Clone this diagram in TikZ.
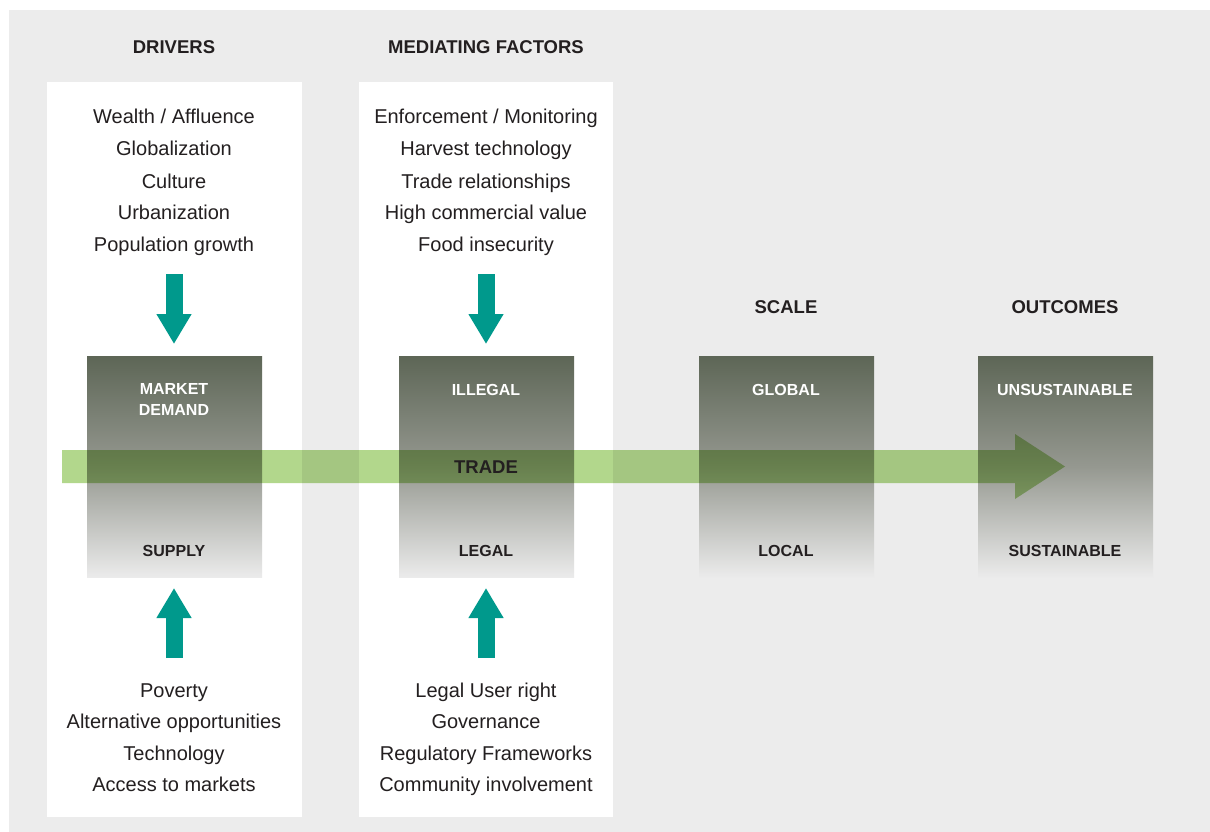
\documentclass[tikz,border=0pt]{standalone}
\usepackage{fontspec}
\setmainfont{Liberation Sans}
\usetikzlibrary{arrows.meta,calc}
\definecolor{bgc}{HTML}{ECECEC}
\definecolor{ink}{HTML}{231F20}
\definecolor{teal}{HTML}{00998C}
\definecolor{trade}{HTML}{B2D78C}
\definecolor{gtop}{HTML}{5D6656}
\definecolor{gmid}{HTML}{959890}
\definecolor{gbot}{HTML}{EBEBEB}
\tikzset{
  head/.style={font=\bfseries\fontsize{18.5}{20}\selectfont, text=ink, anchor=base},
  item/.style={font=\fontsize{20}{22}\selectfont, text=ink, anchor=base},
  gbox/.style={minimum width=175pt, minimum height=221pt, inner sep=0pt,
    top color=gtop, bottom color=gbot, middle color=gmid, draw=none},
  toplab/.style={font=\bfseries\fontsize{16}{21}\selectfont, text=white, align=center, anchor=base},
  botlab/.style={font=\bfseries\fontsize{16}{18}\selectfont, text=ink, anchor=base},
  blockarrow/.style={draw=teal, line width=17pt, -{Triangle[width=33pt,length=30pt]}},
}
\begin{document}
\begin{tikzpicture}[x=1pt,y=-1pt]
\useasboundingbox (0,0) rectangle (1210,832);
\fill[white] (0,0) rectangle (1210,832);
\fill[bgc] (9,10) rectangle (1210,832);
\fill[white] (47,82) rectangle (302,817);
\fill[white] (359,82) rectangle (613,817);

\node[head] (hdrv) at (174,53.5) {DRIVERS};
\node[head] (hmed) at (486,53.5) {MEDIATING FACTORS};
\node[head] (hscl) at (786,313.5) {SCALE};
\node[head] (hout) at (1065,313.5) {OUTCOMES};

% boxes
\node[gbox] (b1) at (174.5,466.5) {};
\node[gbox] (b2) at (486.5,466.5) {};
\node[gbox] (b3) at (786.5,466.5) {};
\node[gbox] (b4) at (1065.5,466.5) {};

% driver items
\node[item] (d1) at (174,124) {Wealth / Affluence};
\node[item] (d2) at (174,156) {Globalization};
\node[item] (d3) at (174,188) {Culture};
\node[item] (d4) at (174,219) {Urbanization};
\node[item] (d5) at (174,251) {Population growth};
\node[item] (s1) at (174,697) {Poverty};
\node[item] (s2) at (174,728) {Alternative opportunities};
\node[item] (s3) at (174,760) {Technology};
\node[item] (s4) at (174,791) {Access to markets};

% mediating items
\node[item] (m1) at (486,124) {Enforcement / Monitoring};
\node[item] (m2) at (486,156) {Harvest technology};
\node[item] (m3) at (486,188) {Trade relationships};
\node[item] (m4) at (486,219) {High commercial value};
\node[item] (m5) at (486,251) {Food insecurity};
\node[item] (l1) at (486,697) {Legal User right};
\node[item] (l2) at (486,728) {Governance};
\node[item] (l3) at (486,760) {Regulatory Frameworks};
\node[item] (l4) at (486,791) {Community involvement};

% teal arrows
\coordinate (a1s) at (174,274); \coordinate (a1e) at (174,344);
\coordinate (a2s) at (174,658); \coordinate (a2e) at (174,588);
\coordinate (a3s) at (486,274); \coordinate (a3e) at (486,344);
\coordinate (a4s) at (486,658); \coordinate (a4e) at (486,588);
\draw[blockarrow] (a1s) -- (a1e);
\draw[blockarrow] (a2s) -- (a2e);
\draw[blockarrow] (a3s) -- (a3e);
\draw[blockarrow] (a4s) -- (a4e);

% trade arrow
\coordinate (ts) at (62,466.5);
\coordinate (te) at (1065,466.5);
\begin{scope}[blend mode=multiply]
\fill[trade] ($(ts)+(0,-16.5)$) -- ($(te)+(-50,-16.5)$) -- ($(te)+(-50,-32.5)$)
  -- (te) -- ($(te)+(-50,32.5)$) -- ($(te)+(-50,16.5)$) -- ($(ts)+(0,16.5)$) -- cycle;
\end{scope}

% box labels
\node[toplab] (t1) at (174,415) {MARKET\\DEMAND};
\node[toplab] (t2) at (486,395) {ILLEGAL};
\node[toplab] (t3) at (786,395) {GLOBAL};
\node[toplab] (t4) at (1065,395) {UNSUSTAINABLE};
\node[botlab] (u1) at (174,556) {SUPPLY};
\node[botlab] (u2) at (486,556) {LEGAL};
\node[botlab] (u3) at (786,556) {LOCAL};
\node[botlab] (u4) at (1065,556) {SUSTAINABLE};
\node[head] (trd) at (486,473) {TRADE};
\end{tikzpicture}
\end{document}
